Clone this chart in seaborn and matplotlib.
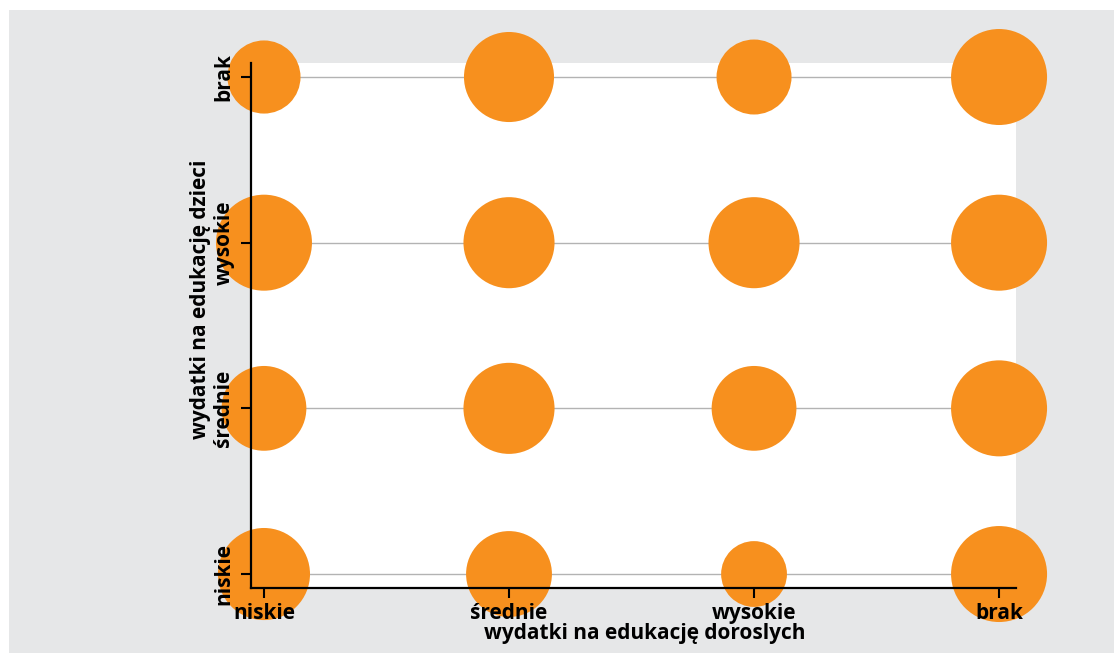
import matplotlib
matplotlib.use("Agg")
import matplotlib.pyplot as plt
from matplotlib.patches import Rectangle
import seaborn as sns
import pandas as pd

# kategorie wydatkow (os x: dorosli, os y: dzieci)
x_cats = ['niskie', 'średnie', 'wysokie', 'brak']
y_cats = ['niskie', 'średnie', 'wysokie', 'brak']

# wartosci w wierszach (dzieci), kolejne kolumny wg x_cats
vals_niskie = [92, 80, 47, 100]
vals_srednie = [78, 90, 78, 100]
vals_wysokie = [100, 90, 90, 100]
vals_brak = [58, 88, 61, 100]

rows = [vals_niskie, vals_srednie, vals_wysokie, vals_brak]
records = []
for yc, vals in zip(y_cats, rows):
    for xc, v in zip(x_cats, vals):
        records.append({'dorosli': xc, 'dzieci': yc, 'wartosc': v})
df = pd.DataFrame(records)

sns.set_style('white')
plt.rcParams['font.family'] = ['Open Sans', 'DejaVu Sans']
plt.rcParams['text.color'] = 'black'
plt.rcParams['axes.labelcolor'] = 'black'
plt.rcParams['xtick.color'] = 'black'
plt.rcParams['ytick.color'] = 'black'

fig = plt.figure(figsize=(11.14, 6.53), dpi=100)
fig.patch.set_facecolor('white')
fig.add_artist(Rectangle((9 / 1114, 0), 1, 643 / 653, transform=fig.transFigure,
                         facecolor='#e6e7e8', edgecolor='none', zorder=0))

ax = fig.add_axes([0.2253, 0.0995, 0.6867, 0.804])
ax.set_facecolor('white')

max_size = (96 * 0.72) ** 2
sns.scatterplot(data=df, x='dorosli', y='dzieci', size='wartosc',
                sizes=(0, max_size), size_norm=(0, 100), color='#f7901e',
                linewidth=0, legend=False, ax=ax, clip_on=False, zorder=2)

ax.set_xlim(-0.053, 3.069)
ax.set_ylim(-0.0845, 3.0845)
ax.hlines(range(len(y_cats)), -0.053, 3.069, color='#b3b3b3', lw=1, zorder=0.8)
ax.grid(False)
ax.set_axisbelow(False)

sns.despine(ax=ax)
for side in ['left', 'bottom']:
    ax.spines[side].set_color('black')
    ax.spines[side].set_linewidth(1.6)

ax.set_xticks(range(len(x_cats)))
ax.set_xticklabels(x_cats, fontweight='bold', fontsize=15)
ax.set_yticks(range(len(y_cats)))
ax.set_yticklabels(y_cats, fontweight='bold', fontsize=15, rotation=90, va='center')
ax.tick_params(direction='out', length=7, width=1.5, color='black',
               left=True, bottom=True)
ax.tick_params(axis='x', pad=4)
ax.tick_params(axis='y', pad=5)

ax.set_xlabel('wydatki na edukację doroslych', fontweight='bold', fontsize=15)
ax.set_ylabel('wydatki na edukację dzieci', fontweight='bold', fontsize=15)
ax.xaxis.set_label_coords(0.515, -0.067)
ax.yaxis.set_label_coords(-0.052, 0.549)

fig.savefig('out.png', dpi=100)
